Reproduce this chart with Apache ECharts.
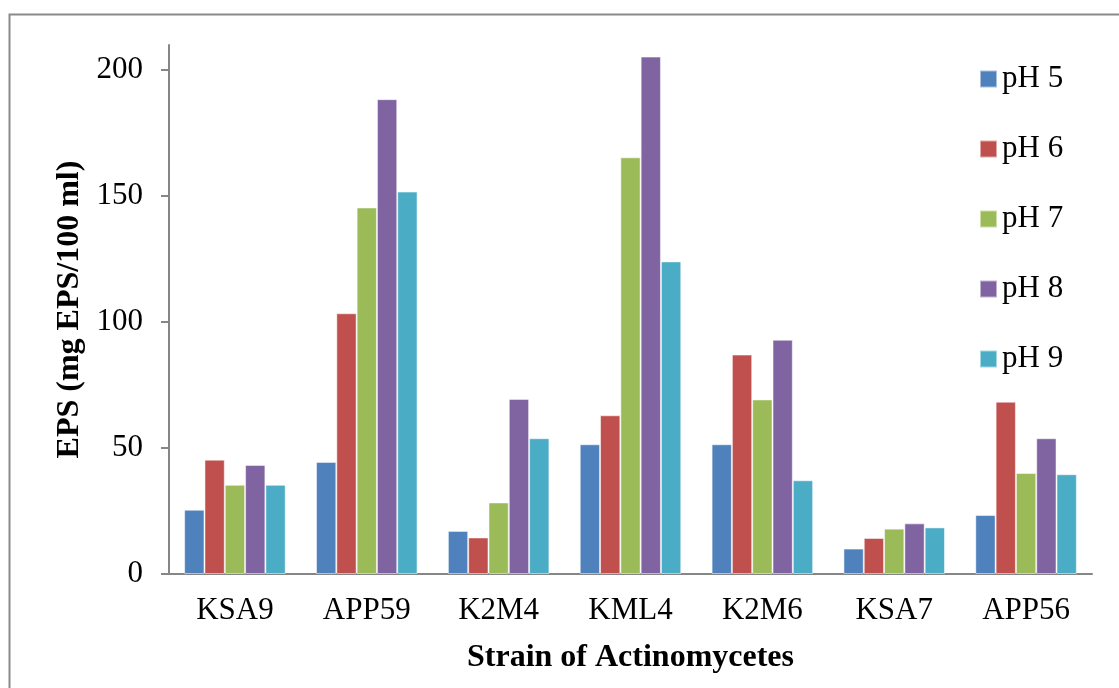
<!DOCTYPE html>
<html>
<head>
<meta charset="utf-8">
<script src="https://cdn.jsdelivr.net/npm/echarts@6/dist/echarts.min.js"></script>
<style>
html,body{margin:0;padding:0;background:#fff;}
#chart{width:1119px;height:688px;}
</style>
</head>
<body>
<div id="chart"></div>
<script>
const categories = ['KSA9', 'APP59', 'K2M4', 'KML4', 'K2M6', 'KSA7', 'APP56'];
const seriesNames = ['pH 5', 'pH 6', 'pH 7', 'pH 8', 'pH 9'];
const pH5 = [25.5, 44.5, 17.1, 51.5, 51.5, 10.1, 23.4];
const pH6 = [45.4, 103.5, 14.5, 63.0, 87.1, 14.3, 68.4];
const pH7 = [35.4, 145.5, 28.4, 165.4, 69.3, 18.0, 40.1];
const pH8 = [43.3, 188.5, 69.5, 205.4, 93.0, 20.1, 53.9];
const pH9 = [35.4, 151.8, 53.9, 124.1, 37.2, 18.5, 39.6];
const yTicks = [0, 50, 100, 150, 200];
const colors = ['#4F81BD', '#C0504D', '#9BBB59', '#8064A2', '#4BACC6'];

const values = [pH5, pH6, pH7, pH8, pH9];
const font = '"Liberation Serif", "Times New Roman", serif';

const chart = echarts.init(document.getElementById('chart'), null, {renderer: 'canvas'});
chart.setOption({
  animation: false,
  color: colors,
  graphic: [{
    type: 'rect',
    left: 7, top: 12,
    shape: {width: 1200, height: 800},
    style: {fill: 'none', stroke: '#8a8a8a', lineWidth: 2},
    silent: true
  }],
  grid: {left: 169, right: 27, top: 45, bottom: 114, containLabel: false},
  legend: {
    orient: 'vertical',
    left: 979,
    top: 62,
    padding: 0,
    icon: 'rect',
    itemWidth: 17,
    itemHeight: 17,
    itemGap: 36,
    textStyle: {fontFamily: font, fontSize: 31, color: '#000', lineHeight: 34},
    data: seriesNames
  },
  xAxis: {
    type: 'category',
    data: categories,
    axisLine: {lineStyle: {color: '#868686', width: 2}},
    axisTick: {show: false},
    axisLabel: {fontFamily: font, fontSize: 31, color: '#000', margin: 21},
    name: 'Strain of Actinomycetes',
    nameLocation: 'middle',
    nameGap: 68,
    nameTextStyle: {fontFamily: font, fontSize: 32, fontWeight: 'bold', color: '#000'}
  },
  yAxis: {
    type: 'value',
    min: 0,
    max: 210,
    interval: 50,
    splitLine: {show: false},
    axisLine: {show: true, lineStyle: {color: '#868686', width: 2}},
    axisTick: {show: true, inside: false, length: 8, lineStyle: {color: '#868686', width: 2}, customValues: yTicks},
    axisLabel: {fontFamily: font, fontSize: 31, color: '#000', margin: 26, customValues: yTicks},
    name: 'EPS (mg EPS/100 ml)',
    nameLocation: 'middle',
    nameGap: 80,
    nameTextStyle: {fontFamily: font, fontSize: 32, fontWeight: 'bold', color: '#000'}
  },
  series: seriesNames.map((n, i) => ({
    name: n,
    type: 'bar',
    data: values[i],
    barGap: '0%',
    barCategoryGap: '23%',
    itemStyle: {color: colors[i], borderColor: 'rgba(255,255,255,0.5)', borderWidth: 1}
  }))
});
</script>
</body>
</html>
